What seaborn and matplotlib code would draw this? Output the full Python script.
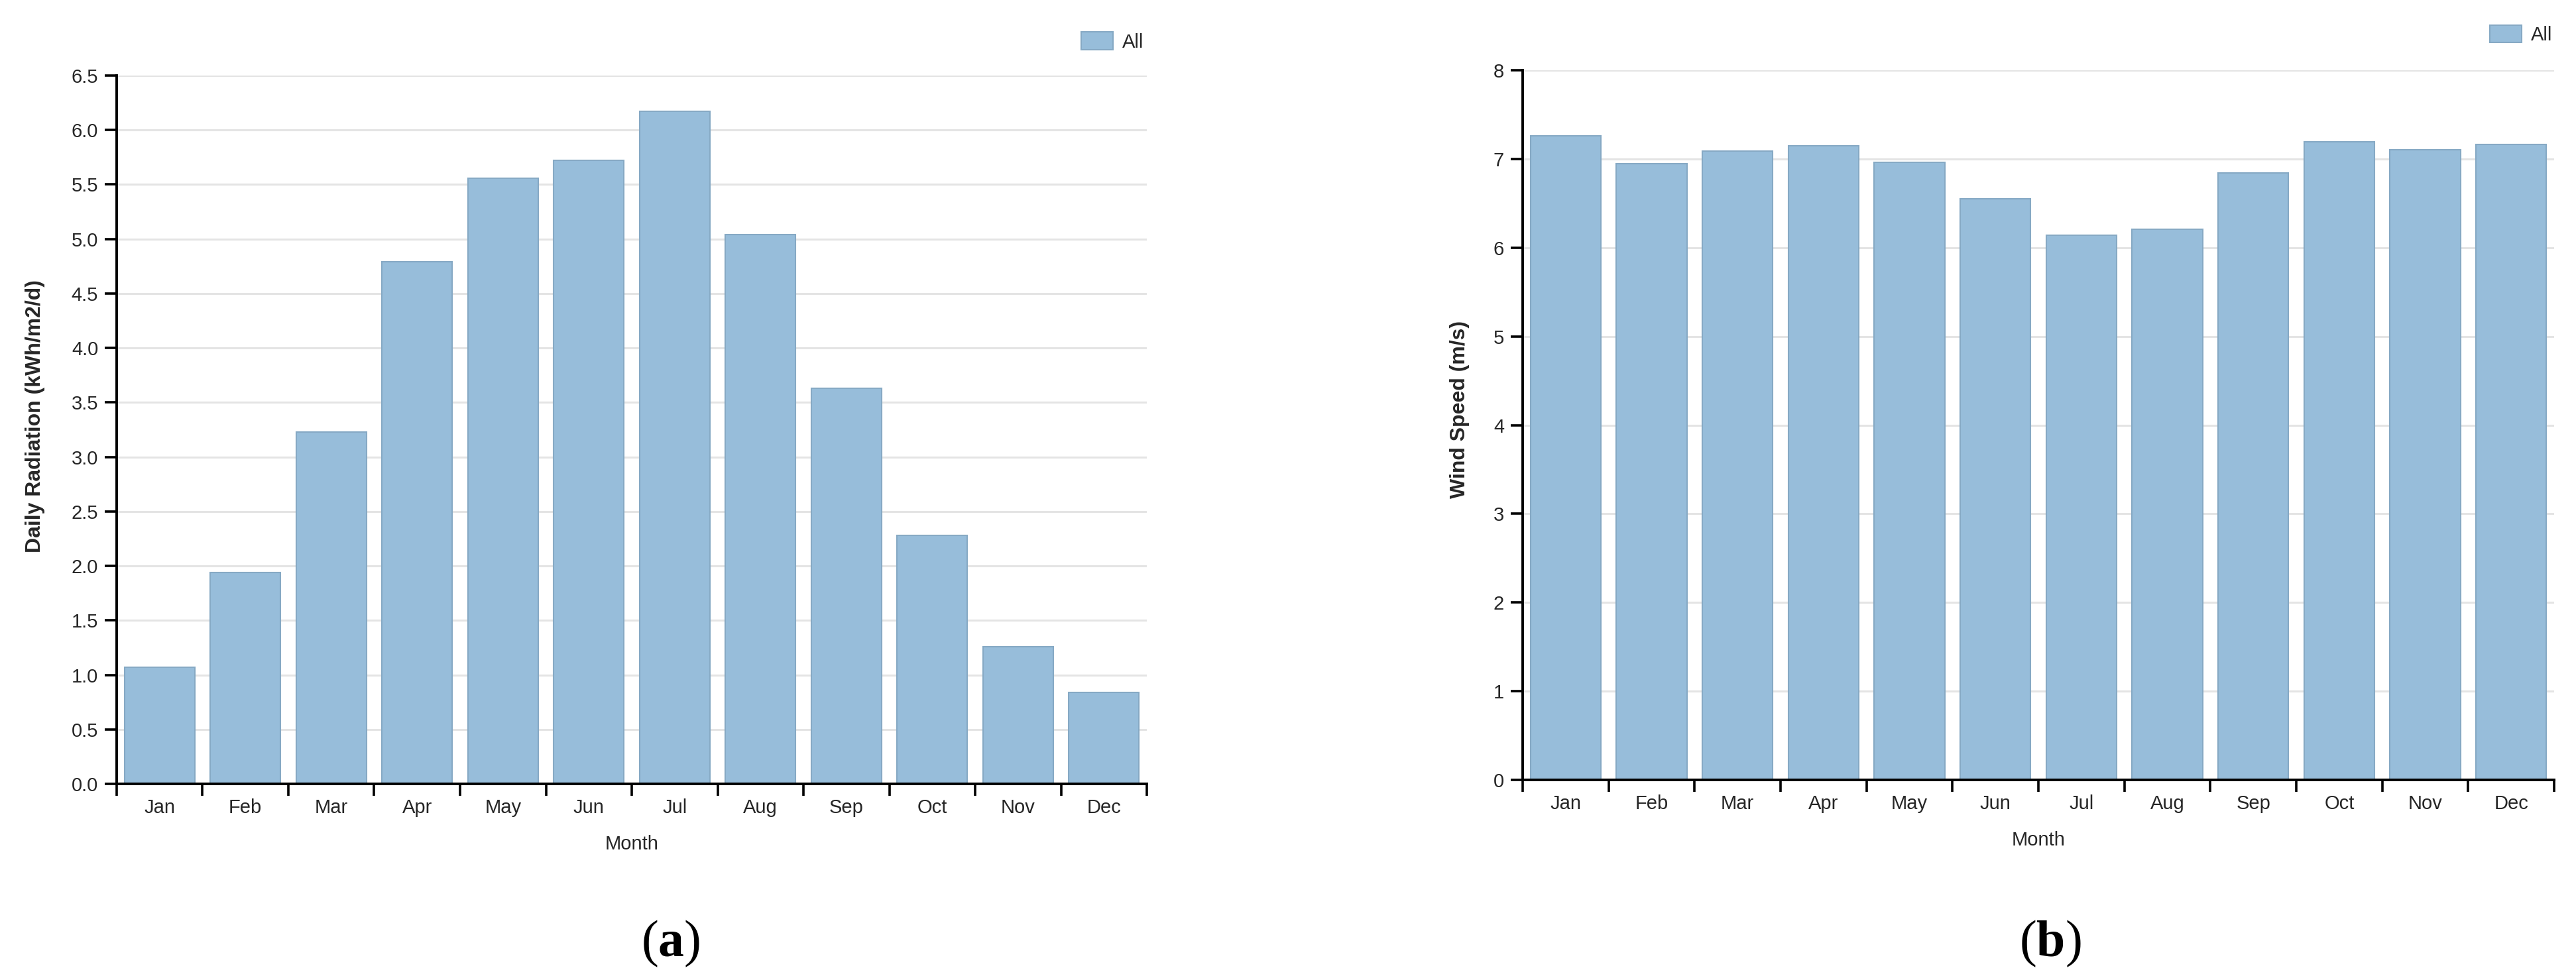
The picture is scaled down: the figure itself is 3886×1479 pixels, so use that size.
import numpy as np
import pandas as pd
import seaborn as sns
import matplotlib
matplotlib.use("Agg")
import matplotlib.pyplot as plt
from matplotlib.ticker import FixedLocator, FormatStrFormatter

months = ['Jan', 'Feb', 'Mar', 'Apr', 'May', 'Jun', 'Jul', 'Aug', 'Sep', 'Oct', 'Nov', 'Dec']
radiation = [1.07, 1.94, 3.23, 4.79, 5.56, 5.72, 6.17, 5.04, 3.63, 2.28, 1.26, 0.84]
wind = [7.26, 6.95, 7.09, 7.15, 6.96, 6.55, 6.14, 6.21, 6.84, 7.19, 7.10, 7.16]

sns.set_style('white')
plt.rcParams['font.family'] = ['Liberation Sans', 'DejaVu Sans']
plt.rcParams['mathtext.fontset'] = 'custom'
plt.rcParams['mathtext.rm'] = 'Liberation Serif'
plt.rcParams['mathtext.bf'] = 'Liberation Serif:bold'

bar_col = '#97bdda'
edge_col = '#86a9c4'
txt_col = '#262626'

fig = plt.figure(figsize=(38.86, 14.79), dpi=100)
ax1 = fig.add_axes([0.04529, 0.20014, 0.39990, 0.72279])
ax2 = fig.add_axes([0.59110, 0.20419, 0.40041, 0.72414])

df1 = pd.DataFrame({'Month': months, 'Value': radiation})
df2 = pd.DataFrame({'Month': months, 'Value': wind})


def draw(ax, df, ymax, ystep, fmt, ylab, ylab_xy, leg_xy):
    sns.barplot(data=df, x='Month', y='Value', color=bar_col, width=0.82,
                saturation=1, edgecolor=edge_col, linewidth=1.5, label='All', ax=ax)
    ax.set_xlim(-0.5, len(months) - 0.5)
    ax.set_ylim(0, ymax)
    ax.set_yticks(np.arange(0, ymax + 0.001, ystep))
    ax.yaxis.set_major_formatter(FormatStrFormatter(fmt))
    # ticks on band edges, labels in band centres
    ax.xaxis.set_major_locator(FixedLocator(np.arange(-0.5, len(months), 1.0)))
    ax.xaxis.set_minor_locator(FixedLocator(np.arange(len(months))))
    ax.set_xticklabels([], minor=False)
    ax.set_xticklabels(months, minor=True)
    ax.tick_params(axis='x', which='major', bottom=True, length=13, width=2.6,
                   color='black', direction='out')
    ax.tick_params(axis='x', which='minor', bottom=True, length=0, pad=16, labelsize=21,
                   labelcolor=txt_col)
    ax.tick_params(axis='y', left=True, length=13, width=2.6, color='black', direction='out',
                   pad=7, labelsize=21, labelcolor=txt_col)
    ax.grid(axis='y', color='#e4e4e4', linewidth=2.2)
    ax.set_axisbelow(True)
    for s in ['top', 'right']:
        ax.spines[s].set_visible(False)
    for s in ['left', 'bottom']:
        ax.spines[s].set_color('black')
        ax.spines[s].set_linewidth(2.8)
    ax.set_xlabel('Month', fontsize=21, color=txt_col)
    ax.xaxis.set_label_coords(0.5, -0.085)
    ax.xaxis.label.set_verticalalignment('center')
    ax.set_ylabel(ylab, fontsize=23, fontweight='bold', color=txt_col)
    ax.yaxis.set_label_coords(*ylab_xy)
    ax.yaxis.label.set_verticalalignment('center')
    ax.legend(loc='center right', bbox_to_anchor=leg_xy, bbox_transform=fig.transFigure,
              frameon=False, fontsize=21, handlelength=1.65, handleheight=1.0,
              handletextpad=0.45, borderpad=0, borderaxespad=0)


draw(ax1, df1, 6.5, 0.5, '%.1f', 'Daily Radiation (kWh/m2/d)', (-0.0792, 0.519), (0.4439, 0.9574))
draw(ax2, df2, 8, 1, '%d', 'Wind Speed (m/s)', (-0.061, 0.522), (0.9907, 0.9645))

fig.text(0.2604, 1 - 1424 / 1479, r'($\mathbf{a}$)', fontsize=56, ha='center', va='center',
         family='Liberation Serif', color='black')
fig.text(0.7959, 1 - 1424 / 1479, r'($\mathbf{b}$)', fontsize=56, ha='center', va='center',
         family='Liberation Serif', color='black')

fig.savefig('out.png', dpi=100)
